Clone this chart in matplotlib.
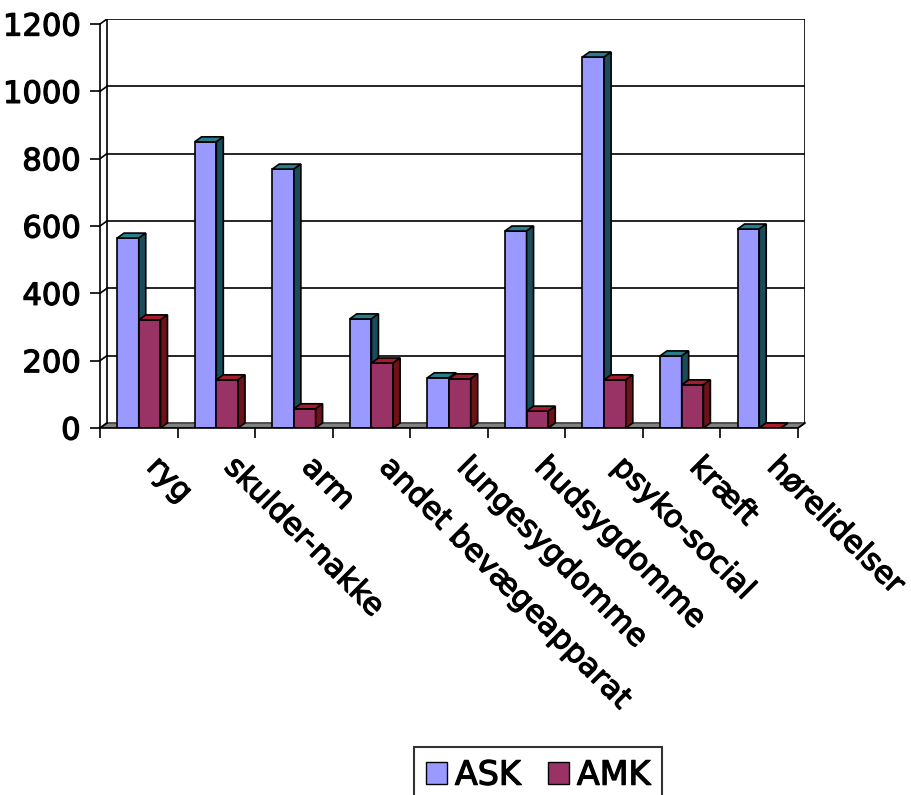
import matplotlib
matplotlib.use("Agg")
import matplotlib.pyplot as plt
import matplotlib.patheffects as pe
from matplotlib.patches import Patch
from matplotlib.transforms import offset_copy

categories = ["ryg", "skulder-nakke", "arm", "andet bevægeapparat", "lungesygdomme",
              "hudsygdomme", "psyko-social", "kræft", "hørelidelser"]
ask = [564, 850, 769, 324, 149, 585, 1102, 214, 591]
amk = [321, 143, 57, 193, 146, 50, 143, 128, 0]
yticks = [0, 200, 400, 600, 800, 1000, 1200]

# colours (front, top, side)
ask_col = ("#9999ff", "#287c8c", "#1a4c5a")
amk_col = ("#993366", "#a51c2a", "#6e1218")

# fake depth of the 3d box in data units
dx = 0.09
dy = 15
bw = 0.28
lw = 1.2

# a little heavier than regular DejaVu
heavy = [pe.withStroke(linewidth=0.9, foreground="black")]

fig = plt.figure(figsize=(9.12, 7.95), dpi=100)
ax = fig.add_axes([100 / 912, 1 - 428 / 795, 705 / 912, 409 / 795])
ax.set_xlim(-0.5, 8.5 + dx)
ax.set_ylim(0, 1200 + dy)
for s in ax.spines.values():
    s.set_visible(False)

n = len(categories)
x0, x1 = -0.5, n - 0.5

# floor
ax.fill([x0, x1, x1 + dx, x0 + dx], [0, 0, dy, dy], facecolor="#808080",
        edgecolor="#404040", lw=lw, zorder=1)

# back wall gridlines + left wall diagonals
for v in yticks:
    if v > 0:
        ax.plot([x0 + dx, x1 + dx], [v + dy, v + dy], color="black", lw=lw, zorder=1)
    ax.plot([x0, x0 + dx], [v, v + dy], color="black", lw=lw, zorder=1)

# wall frame
ax.plot([x0 + dx, x0 + dx], [dy, 1200 + dy], color="black", lw=lw, zorder=1)
ax.plot([x1 + dx, x1 + dx], [dy, 1200 + dy], color="black", lw=lw, zorder=1)
ax.plot([x0, x0], [0, 1200], color="black", lw=lw, zorder=5, clip_on=False)
ax.plot([x0, x1], [0, 0], color="black", lw=lw, zorder=5, clip_on=False)
ax.plot([x1, x1 + dx], [0, dy], color="black", lw=lw, zorder=5, clip_on=False)


def bar3d(left, h, cols, z):
    r = left + bw
    ax.fill([left, r, r, left], [0, 0, h, h], facecolor=cols[0], edgecolor="black",
            lw=lw, zorder=z)
    ax.fill([left, r, r + dx, left + dx], [h, h, h + dy, h + dy], facecolor=cols[1],
            edgecolor="black", lw=lw, zorder=z)
    ax.fill([r, r + dx, r + dx, r], [0, dy, h + dy, h], facecolor=cols[2],
            edgecolor="black", lw=lw, zorder=z)


for i in range(n):
    bar3d(i - bw, ask[i], ask_col, 2 + i * 0.01)
    bar3d(i, amk[i], amk_col, 2.005 + i * 0.01)

# axes ticks
ax.set_yticks(yticks)
ax.set_yticklabels([str(v) for v in yticks], fontsize=22)
for t in ax.get_yticklabels():
    t.set_path_effects(heavy)
ax.tick_params(axis="y", direction="out", length=7, width=lw, pad=7)
ax.set_xticks([x0 + k for k in range(n + 1)])
ax.set_xticklabels([])
ax.tick_params(axis="x", direction="out", length=7, width=lw)

tr = offset_copy(ax.transData, fig=fig, x=23, y=-24, units="dots")
for i, c in enumerate(categories):
    ax.text(i, 0, c, rotation=-45, ha="left", va="top", rotation_mode="anchor",
            fontsize=22, transform=tr, clip_on=False, path_effects=heavy)

handles = [Patch(facecolor=ask_col[0], edgecolor="black", label="ASK"),
           Patch(facecolor=amk_col[0], edgecolor="black", label="AMK")]
leg = fig.legend(handles=handles, loc="upper center", bbox_to_anchor=(538 / 912, 1 - 747 / 795),
                 ncol=2, frameon=True, fancybox=False, handlelength=0.63,
                 handleheight=0.63, handletextpad=0.25, columnspacing=0.8, borderpad=0.35,
                 borderaxespad=0, prop={"size": 24})
leg.get_frame().set_edgecolor("black")
leg.get_frame().set_linewidth(1.5)
for t in leg.get_texts():
    t.set_path_effects(heavy)

fig.savefig("out.png", dpi=100)
